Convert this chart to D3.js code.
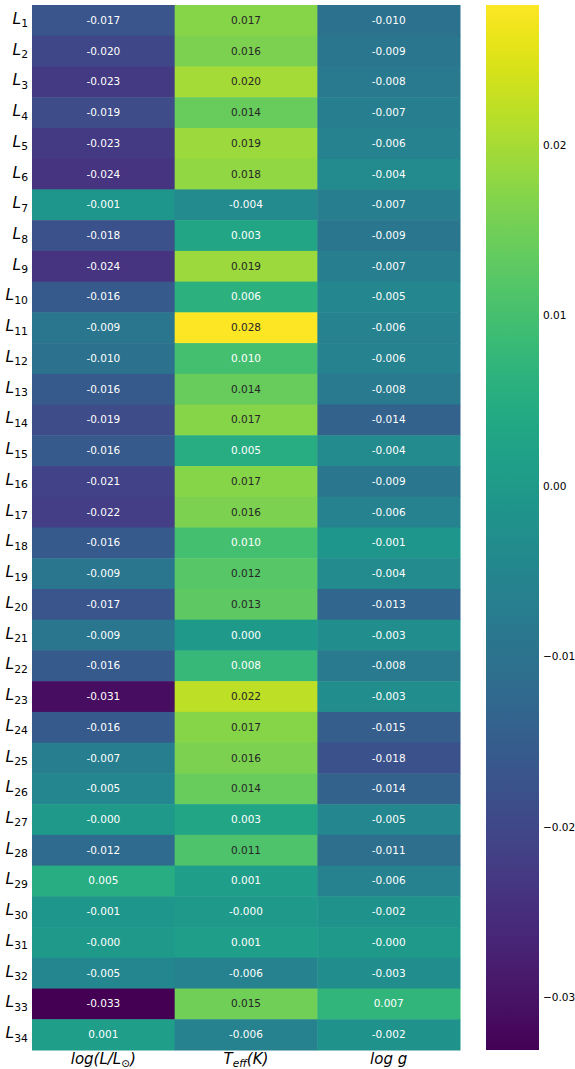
<!DOCTYPE html>
<html>
<head>
<meta charset="utf-8">
<script src="https://cdn.jsdelivr.net/npm/d3@7"></script>
<style>
  html, body { margin: 0; padding: 0; background: #fff; }
  svg { display: block; font-family: "DejaVu Sans", sans-serif; }
</style>
</head>
<body>
<svg id="chart" width="575" height="1069"></svg>
<script>
// Row labels L1..L34 (subscript index drawn separately)
const rowIndex = d3.range(1, 35);

// Column headers
const columns = ["logL", "teff", "logg"];

// Per-column values, one entry per row (L1 .. L34)
const logL = [-0.017, -0.020, -0.023, -0.019, -0.023, -0.024, -0.001, -0.018, -0.024, -0.016,
              -0.009, -0.010, -0.016, -0.019, -0.016, -0.021, -0.022, -0.016, -0.009, -0.017,
              -0.009, -0.016, -0.031, -0.016, -0.007, -0.005, -0.000, -0.012, 0.005, -0.001,
              -0.000, -0.005, -0.033, 0.001];
const teff = [0.017, 0.016, 0.020, 0.014, 0.019, 0.018, -0.004, 0.003, 0.019, 0.006,
              0.028, 0.010, 0.014, 0.017, 0.005, 0.017, 0.016, 0.010, 0.012, 0.013,
              0.000, 0.008, 0.022, 0.017, 0.016, 0.014, 0.003, 0.011, 0.001, -0.000,
              0.001, -0.006, 0.015, -0.006];
const logg = [-0.010, -0.009, -0.008, -0.007, -0.006, -0.004, -0.007, -0.009, -0.007, -0.005,
              -0.006, -0.006, -0.008, -0.014, -0.004, -0.009, -0.006, -0.001, -0.004, -0.013,
              -0.003, -0.008, -0.003, -0.015, -0.018, -0.014, -0.005, -0.011, -0.006, -0.002,
              -0.000, -0.003, 0.007, -0.002];

// Colour limits of the colour bar
const vmin = -0.0331, vmax = 0.0282;
const cbarTicks = [0.02, 0.01, 0.00, -0.01, -0.02, -0.03];

const seriesByCol = { logL, teff, logg };
const cells = [];
rowIndex.forEach((r, i) => {
  columns.forEach(c => cells.push({ row: r, col: c, value: seriesByCol[c][i] }));
});

const svg = d3.select("#chart");
const margin = { left: 32, top: 5 };
const plotW = 428, plotH = 1045;

const x = d3.scaleBand().domain(columns).range([margin.left, margin.left + plotW]);
const y = d3.scaleBand().domain(rowIndex).range([margin.top, margin.top + plotH]);
const color = d3.scaleSequential(d3.interpolateViridis).domain([vmin, vmax]);

function luminance(c) {
  const rgb = d3.rgb(c);
  const lin = v => { v /= 255; return v <= 0.03928 ? v / 12.92 : Math.pow((v + 0.055) / 1.055, 2.4); };
  return 0.2126 * lin(rgb.r) + 0.7152 * lin(rgb.g) + 0.0722 * lin(rgb.b);
}
function label(v) {
  return Object.is(v, -0) ? "-0.000" : v.toFixed(3);
}

// Heat-map cells
const g = svg.append("g");
g.selectAll("rect")
  .data(cells)
  .join("rect")
  .attr("x", d => x(d.col))
  .attr("y", d => y(d.row))
  .attr("width", x.bandwidth() + 0.5)
  .attr("height", y.bandwidth() + 0.5)
  .attr("fill", d => color(d.value));

// Cell annotations
g.selectAll("text")
  .data(cells)
  .join("text")
  .attr("x", d => x(d.col) + x.bandwidth() / 2)
  .attr("y", d => y(d.row) + y.bandwidth() / 2 - 0.5)
  .attr("text-anchor", "middle")
  .attr("dominant-baseline", "central")
  .attr("font-size", 10.5)
  .attr("fill", d => luminance(color(d.value)) > 0.408 ? "#262626" : "#ffffff")
  .text(d => label(d.value));

// Row labels: italic L with subscript index
const rowLab = svg.append("g").selectAll("text")
  .data(rowIndex)
  .join("text")
  .attr("x", margin.left - 4)
  .attr("y", d => y(d) + y.bandwidth() / 2 + 3.5)
  .attr("text-anchor", "end")
  .attr("font-size", 15.5)
  .attr("fill", "#000");
rowLab.append("tspan").attr("font-style", "italic").text("L");
rowLab.append("tspan").attr("font-size", 10.8).attr("dy", 3.5).text(d => d);

// Column labels
const colY = margin.top + plotH + 14;
const colG = svg.append("g").attr("font-size", 15).attr("fill", "#000");
function colText(col) {
  return colG.append("text")
    .attr("x", x(col) + x.bandwidth() / 2)
    .attr("y", colY)
    .attr("text-anchor", "middle")
    .attr("font-style", "italic");
}
const t1 = colText("logL");
t1.append("tspan").text("log(L/L");
t1.append("tspan").attr("font-size", 10.5).attr("font-style", "normal").attr("dy", 3).text("\u2299");
t1.append("tspan").attr("dy", -3).text(")");
const t2 = colText("teff");
t2.append("tspan").text("T");
t2.append("tspan").attr("font-size", 10.5).attr("dy", 3).text("eff");
t2.append("tspan").attr("dy", -3).text("(K)");
colText("logg").text("log g");

// Colour bar
const cbX = 486, cbW = 53;
const cy = d3.scaleLinear().domain([vmin, vmax]).range([margin.top + plotH, margin.top]);
const defs = svg.append("defs");
const grad = defs.append("linearGradient")
  .attr("id", "cbar").attr("x1", 0).attr("y1", 1).attr("x2", 0).attr("y2", 0);
d3.range(0, 1.0001, 0.02).forEach(t => {
  grad.append("stop").attr("offset", t).attr("stop-color", d3.interpolateViridis(t));
});
svg.append("rect")
  .attr("x", cbX).attr("y", margin.top)
  .attr("width", cbW).attr("height", plotH)
  .attr("fill", "url(#cbar)");

const cbAxis = d3.axisRight(cy)
  .tickValues(cbarTicks)
  .tickSize(0)
  .tickPadding(4)
  .tickFormat(d3.format(".2f"));
svg.append("g")
  .attr("transform", `translate(${cbX + cbW},0)`)
  .call(cbAxis)
  .call(s => s.select(".domain").remove())
  .call(s => s.selectAll("text").attr("font-size", 10.5).attr("fill", "#000").attr("font-family", "DejaVu Sans"));
</script>
</body>
</html>
